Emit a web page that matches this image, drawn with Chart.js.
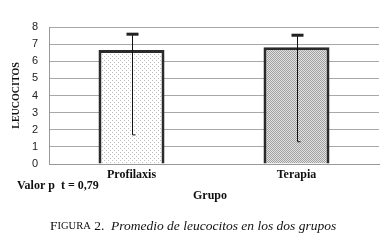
<!DOCTYPE html>
<html>
<head>
<meta charset="utf-8">
<script src="https://cdn.jsdelivr.net/npm/chart.js@4.4.1/dist/chart.umd.min.js"></script>
<style>
  html, body { margin: 0; padding: 0; background: #fff; }
  #wrap { width: 389px; height: 247px; position: relative; }
</style>
</head>
<body>
<div id="wrap"><canvas id="leucoChart" width="389" height="247"></canvas></div>
<script>
// data
const grupos = ["Profilaxis", "Terapia"];
const promedio = [6.65, 6.82];
const errSuperior = [7.58, 7.52];   // top end of the whisker
const errInferior = [1.7, 1.3];     // bottom end of the whisker
const yTicks = [0, 1, 2, 3, 4, 5, 6, 7, 8];

const SERIF = "'Liberation Serif', 'Times New Roman', serif";

function makePattern(kind) {
  const c = document.createElement("canvas");
  const p = c.getContext("2d");
  if (kind === "light") {
    c.width = 4; c.height = 4;
    p.fillStyle = "#fff";
    p.fillRect(0, 0, 4, 4);
    p.fillStyle = "#bdbdbd";
    p.fillRect(0, 0, 1, 1);
    p.fillRect(2, 2, 1, 1);
  } else {
    c.width = 2; c.height = 2;
    p.fillStyle = "#e2e2e2";
    p.fillRect(0, 0, 2, 2);
    p.fillStyle = "#a0a0a0";
    p.fillRect(0, 0, 1, 1);
    p.fillRect(1, 1, 1, 1);
  }
  return p.createPattern(c, "repeat");
}

// whiskers drawn from errSuperior / errInferior through the y scale
const errorBars = {
  id: "errorBars",
  afterDatasetsDraw(chart) {
    const { ctx } = chart;
    const yScale = chart.scales.y;
    const meta = chart.getDatasetMeta(0);
    ctx.save();
    meta.data.forEach((bar, i) => {
      const x = Math.round(bar.x) + 0.5;
      const yTop = yScale.getPixelForValue(errSuperior[i]);
      const yBot = yScale.getPixelForValue(errInferior[i]);
      ctx.strokeStyle = "#111";
      ctx.lineWidth = 1;
      ctx.beginPath();
      ctx.moveTo(x, yTop);
      ctx.lineTo(x, yBot);
      ctx.lineTo(x + 3, yBot);
      ctx.stroke();
      ctx.fillStyle = "#222";
      ctx.fillRect(x - 6, yTop - 1.5, 12, 3);
    });
    ctx.restore();
  }
};

// extra texts: axis titles, p value, caption
const textos = {
  id: "textos",
  afterDraw(chart) {
    const { ctx, chartArea } = chart;
    ctx.save();
    ctx.fillStyle = "#111";
    ctx.textBaseline = "middle";

    // y title
    ctx.save();
    ctx.translate(16, (chartArea.top + chartArea.bottom) / 2);
    ctx.rotate(-Math.PI / 2);
    ctx.textAlign = "center";
    ctx.font = "bold 10px " + SERIF;
    ctx.fillText("LEUCOCITOS", 0, 0);
    ctx.restore();

    ctx.textAlign = "left";
    ctx.font = "bold 12px " + SERIF;
    ctx.fillText("Valor p  t = 0,79", 17, 186);

    ctx.textAlign = "center";
    ctx.font = "bold 12px " + SERIF;
    ctx.fillText("Grupo", 210, 196);

    // caption: small caps "Figura 2." then italic text
    let x = 50;
    const y = 226;
    ctx.textAlign = "left";
    ctx.font = "13.5px " + SERIF;
    ctx.fillText("F", x, y); x += ctx.measureText("F").width;
    ctx.font = "10.5px " + SERIF;
    ctx.fillText("IGURA", x, y + 0.5); x += ctx.measureText("IGURA").width;
    ctx.font = "13.5px " + SERIF;
    ctx.fillText(" 2.  ", x, y); x += ctx.measureText(" 2.  ").width;
    ctx.font = "italic 13.5px " + SERIF;
    ctx.fillText("Promedio de leucocitos en los dos grupos", x, y);
    ctx.restore();
  }
};

const ctx = document.getElementById("leucoChart").getContext("2d");
new Chart(ctx, {
  type: "bar",
  data: {
    labels: grupos,
    datasets: [{
      data: promedio,
      backgroundColor: [makePattern("light"), makePattern("dark")],
      borderColor: "#2b2b2b",
      borderWidth: 3,
      barPercentage: 0.4,
      categoryPercentage: 1
    }]
  },
  options: {
    responsive: false,
    animation: false,
    layout: { padding: { top: 27, right: 10, left: 0, bottom: 0 } },
    plugins: {
      legend: { display: false },
      tooltip: { enabled: false }
    },
    scales: {
      x: {
        grid: { display: false, drawTicks: false },
        border: { display: true, color: "#999", width: 1 },
        ticks: {
          padding: 4,
          color: "#111",
          font: { family: SERIF, size: 12, weight: "bold" }
        },
        afterFit: (s) => { s.height = 247 - 164; }
      },
      y: {
        min: 0,
        max: 8,
        afterBuildTicks: (s) => { s.ticks = yTicks.map(v => ({ value: v })); },
        grid: { color: "#a8a8a8", lineWidth: 1, drawTicks: false },
        border: { display: true, color: "#999", width: 1 },
        ticks: {
          padding: 11,
          color: "#222",
          font: { family: "'Liberation Sans', Arial, sans-serif", size: 11 }
        },
        afterFit: (s) => { s.width = 49; }
      }
    }
  },
  plugins: [errorBars, textos]
});
</script>
</body>
</html>
